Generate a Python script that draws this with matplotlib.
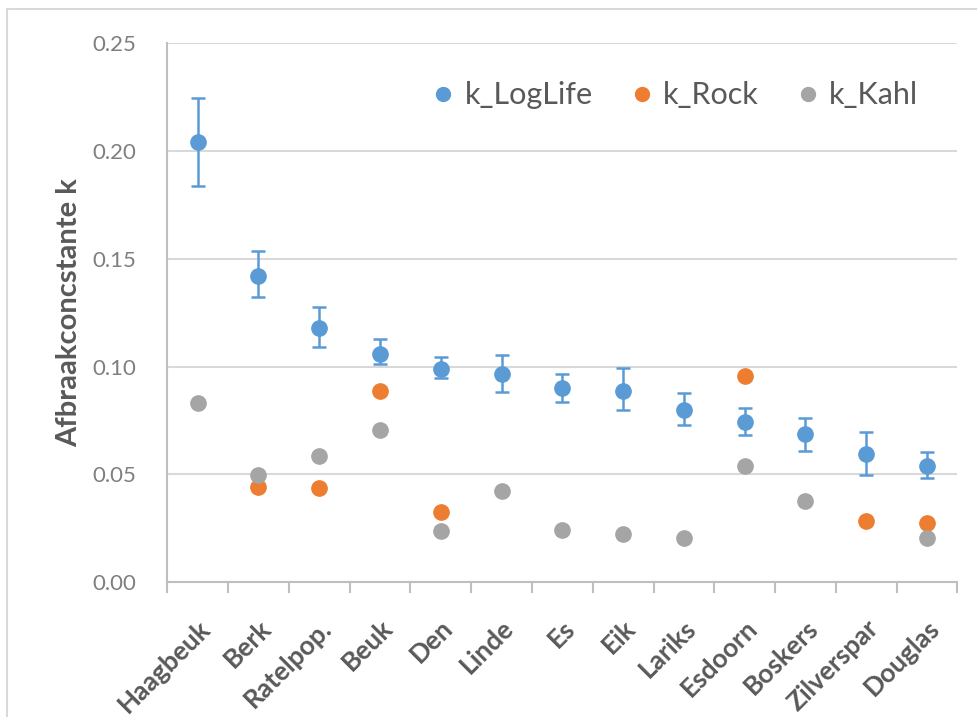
import matplotlib.pyplot as plt
import numpy as np
from matplotlib.lines import Line2D
from matplotlib.patches import Rectangle

species = ["Haagbeuk", "Berk", "Ratelpop.", "Beuk", "Den", "Linde", "Es", "Eik",
           "Lariks", "Esdoorn", "Boskers", "Zilverspar", "Douglas"]

k_loglife = [0.204, 0.142, 0.118, 0.106, 0.099, 0.0965, 0.090, 0.0886, 0.0798, 0.0742, 0.0686, 0.0594, 0.0538]
loglife_low = [0.1837, 0.1322, 0.109, 0.101, 0.0946, 0.0881, 0.0835, 0.0798, 0.0728, 0.0682, 0.0608, 0.0496, 0.0482]
loglife_high = [0.2245, 0.1535, 0.1275, 0.1127, 0.1044, 0.1053, 0.0965, 0.0993, 0.0877, 0.0807, 0.0761, 0.0696, 0.0603]

k_rock = [np.nan, 0.0441, 0.0436, 0.0886, 0.0325, np.nan, np.nan, np.nan, np.nan, 0.0956, np.nan, 0.0283, 0.0274]
k_kahl = [0.083, 0.0496, 0.0584, 0.0705, 0.0237, 0.0422, 0.0241, 0.0223, 0.0204, 0.0538, 0.0376, np.nan, 0.0204]

series_names = ["k_LogLife", "k_Rock", "k_Kahl"]
colors = ["#5B9BD5", "#ED7D31", "#A5A5A5"]

plt.rcParams['font.family'] = ['Lato', 'DejaVu Sans']

fig = plt.figure(figsize=(9.78, 7.17), dpi=100)
fig.patches.append(Rectangle((7 / 978, -0.1), 1.2, 1 - 9 / 717 + 0.1, transform=fig.transFigure,
                             fill=False, edgecolor="#D9D9D9", linewidth=1.5))
ax = fig.add_axes([0.171, 0.188, 0.808, 0.752])

x = np.arange(len(species))
lo = np.array(k_loglife) - np.array(loglife_low)
hi = np.array(loglife_high) - np.array(k_loglife)

ax.errorbar(x, k_loglife, yerr=[lo, hi], fmt="o", color=colors[0], ecolor=colors[0],
            markersize=11, elinewidth=1.8, capsize=5, capthick=1.8, zorder=3)
ax.plot(x, k_rock, "o", color=colors[1], markersize=11, zorder=3)
ax.plot(x, k_kahl, "o", color=colors[2], markersize=11, zorder=3)

ax.set_xlim(-0.5, len(species) - 0.5)
ax.set_ylim(0, 0.25)
yt = np.arange(0, 0.26, 0.05)
ax.set_yticks(yt)
ax.set_yticklabels([f"{v:.2f}" for v in yt], fontsize=16, color="#7F7F7F")
ax.set_xticks(x)
ax.set_xticklabels(species, rotation=45, ha="right", rotation_mode="anchor",
                   fontsize=19, fontweight="bold", color="#595959")
ax.set_xticks(np.arange(len(species) + 1) - 0.5, minor=True)
ax.tick_params(axis="x", which="major", length=0, pad=24)
ax.tick_params(axis="x", which="minor", length=8, color="#BFBFBF", width=1.5)
ax.tick_params(axis="y", length=0, pad=22)

ax.grid(axis="y", color="#D9D9D9", linewidth=1.5)
ax.set_axisbelow(True)
for s in ["top", "right"]:
    ax.spines[s].set_visible(False)
for s in ["left", "bottom"]:
    ax.spines[s].set_color("#BFBFBF")
    ax.spines[s].set_linewidth(1.5)

ax.set_ylabel("Afbraakconcstante k", fontsize=21, fontweight="bold", color="#595959", labelpad=8)

handles = [Line2D([], [], marker="o", linestyle="none", color=c, markersize=10) for c in colors]
leg = ax.legend(handles, series_names, loc="upper right", bbox_to_anchor=(0.985, 0.98), ncol=3,
                frameon=False, fontsize=22, handletextpad=0.1, columnspacing=1.0, handlelength=1.2)
for t in leg.get_texts():
    t.set_color("#595959")

fig.savefig("out.png", dpi=100)
